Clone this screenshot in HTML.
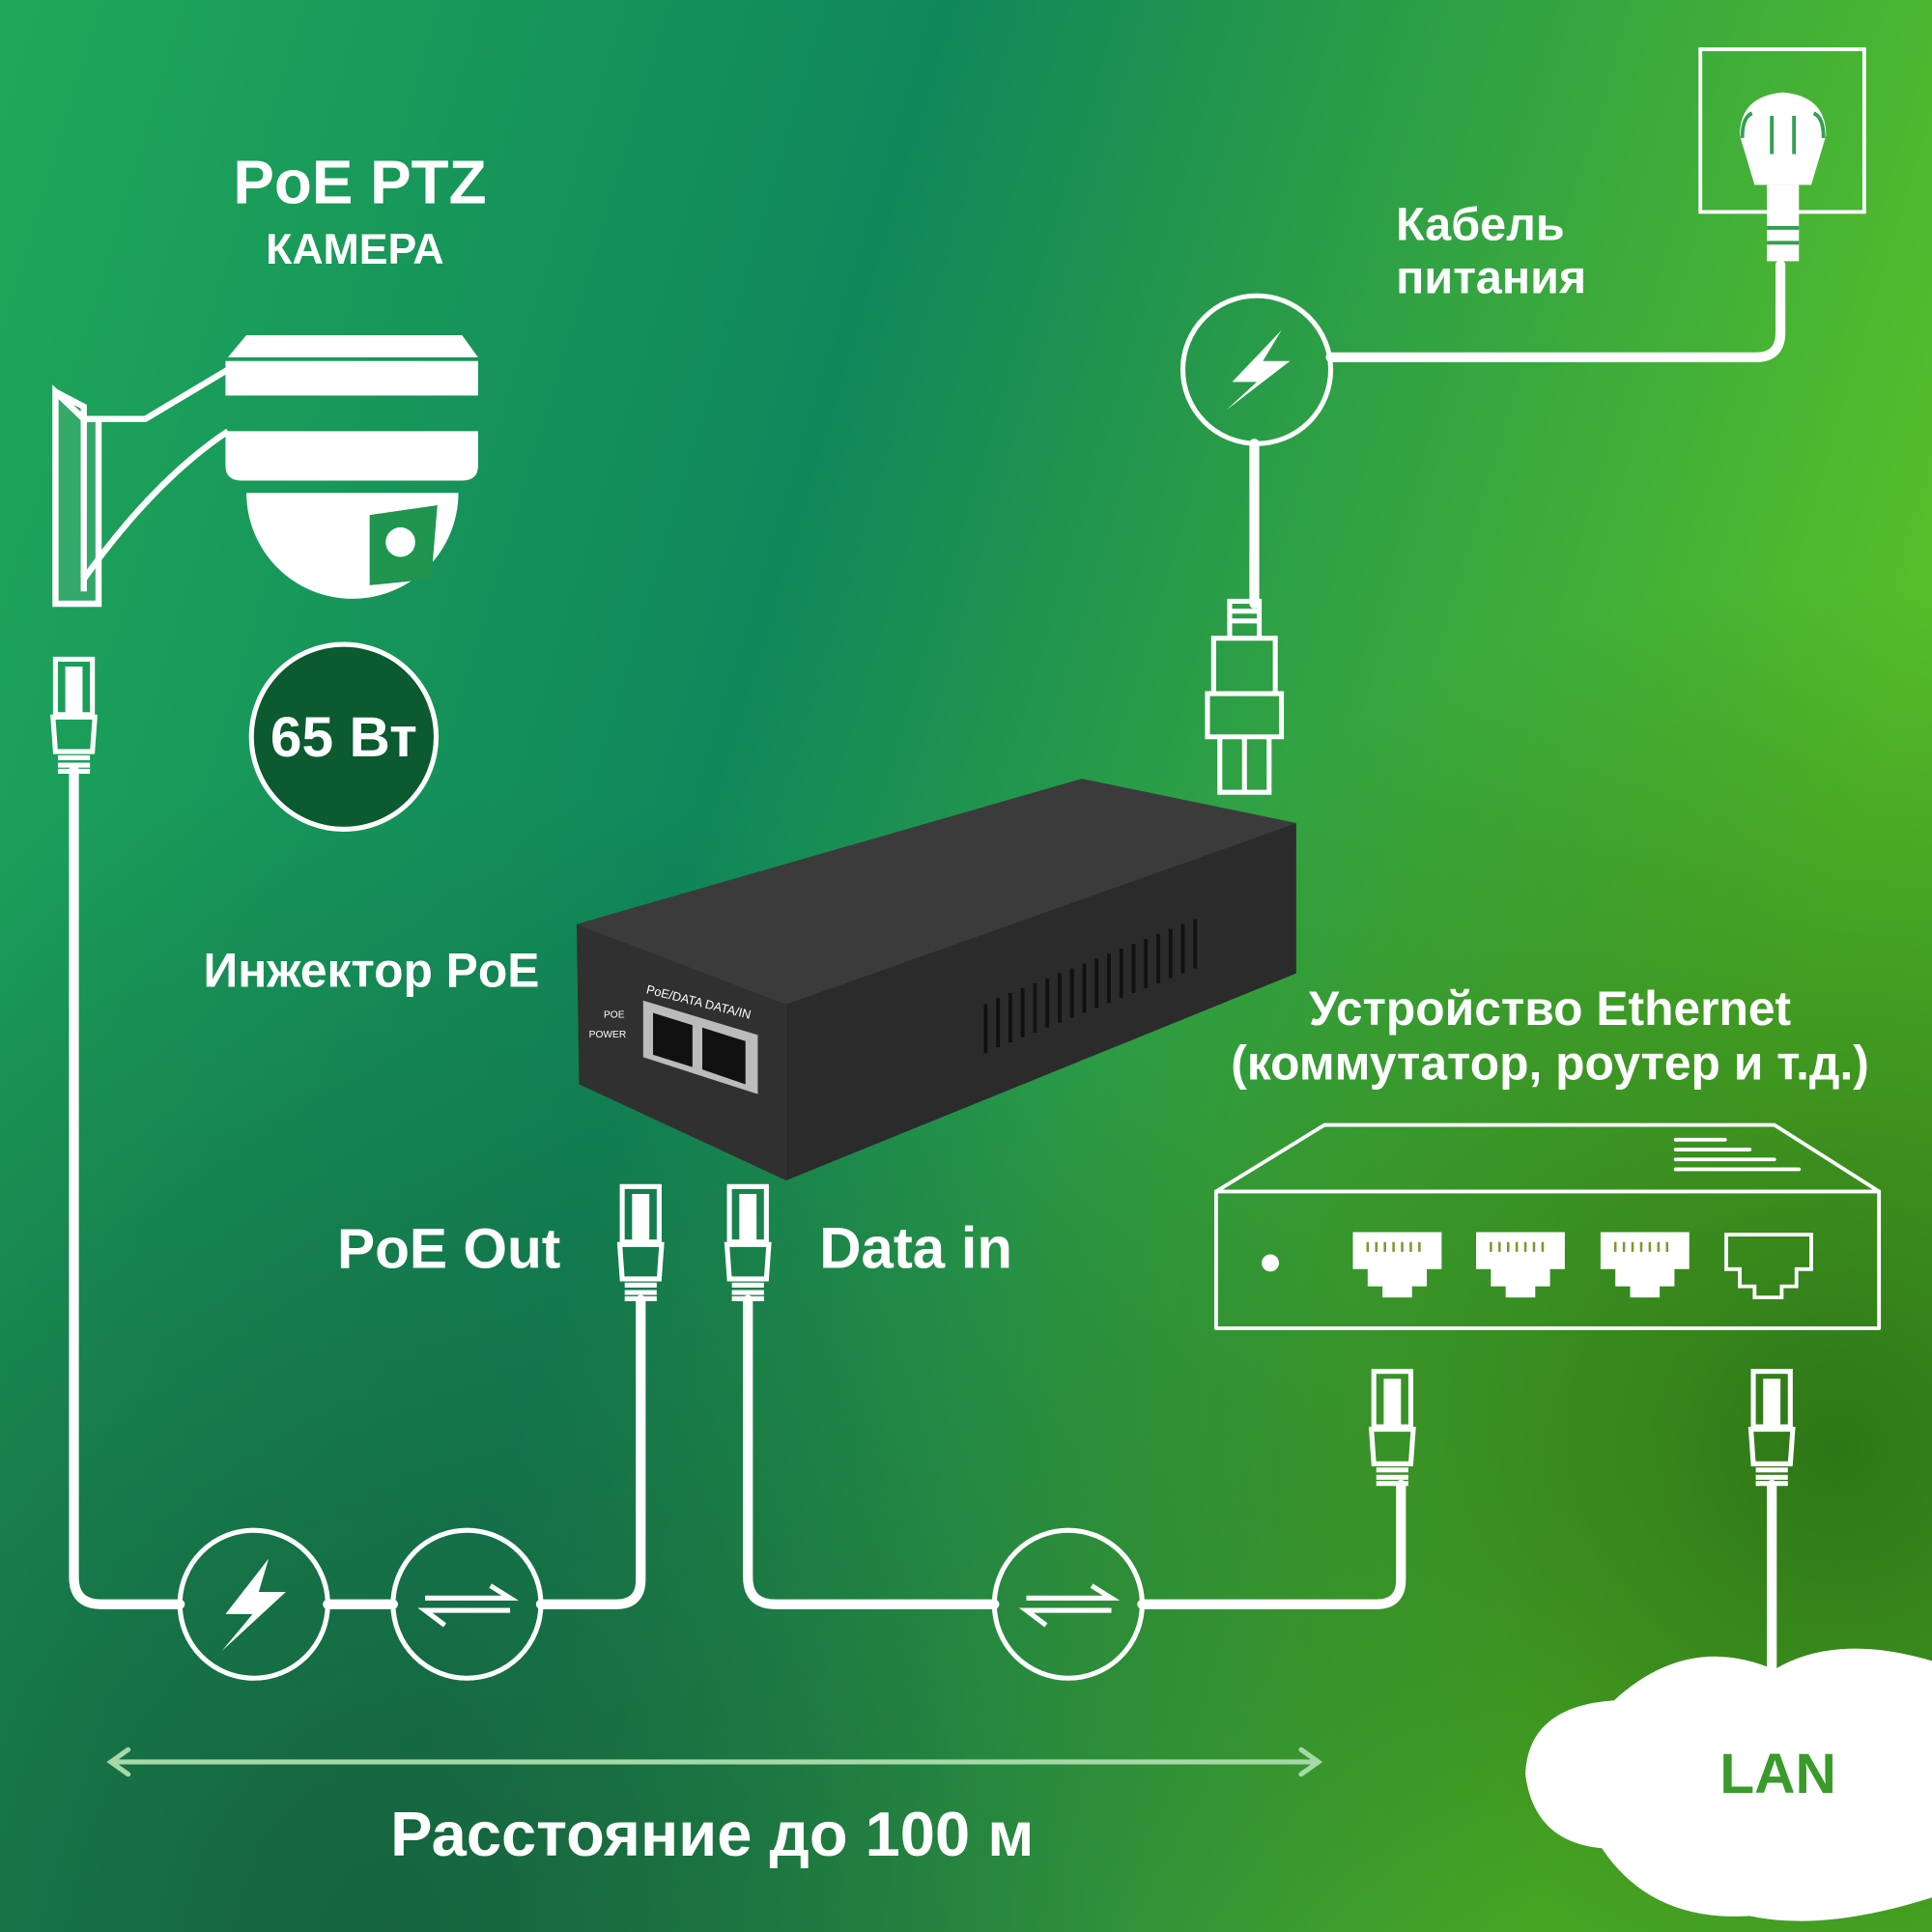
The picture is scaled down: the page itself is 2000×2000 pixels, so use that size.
<!DOCTYPE html>
<html><head><meta charset="utf-8"><style>
html,body{margin:0;padding:0;width:2000px;height:2000px;overflow:hidden}
svg{display:block}
text{font-family:"Liberation Sans","DejaVu Sans",sans-serif;font-weight:bold;fill:#fff}
</style></head><body>
<svg width="2000" height="2000" viewBox="0 0 1568 1568" xmlns="http://www.w3.org/2000/svg">
<defs>
<linearGradient id="bg" x1="0" y1="0" x2="1" y2="0.3">
<stop offset="0" stop-color="#20a85a"/><stop offset="0.45" stop-color="#10875a"/><stop offset="1" stop-color="#55bf2a"/>
</linearGradient>
<radialGradient id="dk1" cx="0.2" cy="1" r="0.6"><stop offset="0" stop-color="#175f3a" stop-opacity="0.9"/><stop offset="1" stop-color="#175f3a" stop-opacity="0"/></radialGradient>
<radialGradient id="dk2" cx="0.95" cy="0.75" r="0.45"><stop offset="0" stop-color="#2a6e15" stop-opacity="0.9"/><stop offset="1" stop-color="#2a6e15" stop-opacity="0"/></radialGradient>
</defs>
<rect width="1568" height="1568" fill="url(#bg)"/>
<rect width="1568" height="1568" fill="url(#dk1)"/>
<rect width="1568" height="1568" fill="url(#dk2)"/>

<g fill="none" stroke="#fff" stroke-width="8" stroke-linecap="round" stroke-linejoin="round">
<path d="M60,625 V1280 Q60,1302 82,1302 H146"/>
<path d="M266,1302 H319"/>
<path d="M439,1302 H500 Q520,1302 520,1282 V1055"/>
<circle cx="206" cy="1302" r="60" stroke-width="4"/>
<circle cx="379" cy="1302" r="60" stroke-width="4"/>
<path d="M607,1055 V1280 Q607,1302 629,1302 H807"/>
<path d="M927,1302 H1117 Q1137,1302 1137,1282 V1205"/>
<circle cx="867" cy="1302" r="60" stroke-width="4"/>
<path d="M1438,1205 V1360"/>
<circle cx="1020" cy="300" r="60" stroke-width="4"/>
<path d="M1080,290 H1425 Q1445,290 1445,270 V215"/>
<path d="M1018,360 V490"/>
<rect x="987" y="967" width="538" height="111" stroke-width="3"/>
<path d="M987,967 L1075,913 H1440 L1525,967" stroke-width="3"/>
<path d="M1360,925 H1400 M1360,933 H1420 M1360,941 H1440 M1360,949 H1460" stroke-width="3"/>
</g>
<circle cx="1031" cy="1025" r="7" fill="#fff"/>
<g fill="#fff" stroke="#fff">
<path d="M1098,1000 h72 v30 h-12 v14 h-12 v9 h-24 v-9 h-12 v-14 h-12 z" stroke="none"/>
<path d="M1198,1000 h72 v30 h-12 v14 h-12 v9 h-24 v-9 h-12 v-14 h-12 z" stroke="none"/>
<path d="M1299,1000 h72 v30 h-12 v14 h-12 v9 h-24 v-9 h-12 v-14 h-12 z" stroke="none"/>
<path d="M1401,1002 h69 v28 h-12 v14 h-12 v9 h-22 v-9 h-12 v-14 h-11 z" fill="none" stroke-width="3"/>
</g>
<g stroke="#7a9a30" stroke-width="2"><path d="M1110,1008v8M1117,1008v8M1124,1008v8M1131,1008v8M1138,1008v8M1145,1008v8M1152,1008v8M1210,1008v8M1217,1008v8M1224,1008v8M1231,1008v8M1238,1008v8M1245,1008v8M1252,1008v8M1311,1008v8M1318,1008v8M1325,1008v8M1332,1008v8M1339,1008v8M1346,1008v8M1353,1008v8"/></g>

<g fill="#fff">
<path d="M218,1265 L183,1310 H205 L180,1340 L232,1292 H210 Z"/>
<path d="M1040,268 L1000,310 H1020 L995,333 L1047,293 H1025 Z"/>
</g>
<g fill="none" stroke="#fff" stroke-width="4">
<path d="M345,1297 H414 L398,1287 M414,1307 H345 L361,1319"/>
<path d="M833,1297 H902 L886,1287 M902,1307 H833 L849,1319"/>
</g>

<g fill="none" stroke="#fff" stroke-width="4">
<g transform="translate(60,535)"><rect x="-15" y="0" width="30" height="45"/><rect x="-5" y="8" width="10" height="35" fill="#fff"/><path d="M-17,47 H17 L15,75 H-15 Z M-13,80 H13 M-13,86 H13 M-13,91 H13"/></g>
<g transform="translate(520,963)"><rect x="-15" y="0" width="30" height="45"/><rect x="-5" y="8" width="10" height="35" fill="#fff"/><path d="M-17,47 H17 L15,75 H-15 Z M-13,80 H13 M-13,86 H13 M-13,91 H13"/></g>
<g transform="translate(607,963)"><rect x="-15" y="0" width="30" height="45"/><rect x="-5" y="8" width="10" height="35" fill="#fff"/><path d="M-17,47 H17 L15,75 H-15 Z M-13,80 H13 M-13,86 H13 M-13,91 H13"/></g>
<g transform="translate(1130,1113)"><rect x="-15" y="0" width="30" height="45"/><rect x="-5" y="8" width="10" height="35" fill="#fff"/><path d="M-17,47 H17 L15,75 H-15 Z M-13,80 H13 M-13,86 H13 M-13,91 H13"/></g>
<g transform="translate(1438,1113)"><rect x="-15" y="0" width="30" height="45"/><rect x="-5" y="8" width="10" height="35" fill="#fff"/><path d="M-17,47 H17 L15,75 H-15 Z M-13,80 H13 M-13,86 H13 M-13,91 H13"/></g>
<g transform="translate(1010,488)"><path d="M-12,0 H12 V30 H-12 Z M-12,8 H12 M-12,16 H12 M-25,30 H25 V75 H-25 Z M-30,75 H30 V110 H-30 Z M-20,110 V155 H20 V110 M0,110 V155"/></g>
<rect x="1380" y="40" width="133" height="132" stroke-width="3"/>
</g>
<!-- plug -->
<path d="M1412,110 Q1412,78 1447,75 Q1482,78 1482,110 L1470,150 H1424 Z" fill="#fff"/>
<path d="M1422,92 Q1414,95 1414,112 M1472,92 Q1480,95 1480,112" stroke="#30a050" stroke-width="3" fill="none"/>
<path d="M1438,94 V125 M1456,94 V125" stroke="#30a050" stroke-width="3"/>
<rect x="1434" y="150" width="26" height="62" fill="#fff"/>
<path d="M1434,185 H1460 M1434,197 H1460" stroke="#30a050" stroke-width="3"/>

<!-- camera -->
<g fill="none" stroke="#fff" stroke-width="5">
<path d="M45,318 V490 H80 V340 H68 Z" fill="#fff" fill-opacity="0.1"/>
<path d="M45,318 L68,330 V480"/>
<path d="M68,340 H118 L185,300 M68,470 Q125,390 185,350"/>
</g>
<path d="M185,290 L200,272 H375 L388,290 Z" fill="#fff"/>
<rect x="183" y="293" width="205" height="28" fill="#fff"/>
<path d="M183,350 H388 V378 Q388,390 375,390 H196 Q183,390 183,378 Z" fill="#fff"/>
<path d="M200,400 H372 A86,86 0 0 1 200,400 Z" fill="#fff"/>
<path d="M300,418 L355,410 L350,470 L300,475 Z" fill="#1f9550"/>
<circle cx="325" cy="440" r="12" fill="#fff"/>

<circle cx="279" cy="598" r="75" fill="#0c5a30" stroke="#fff" stroke-width="4"/>
<text x="279" y="614" font-size="46" text-anchor="middle">65 Вт</text>

<path d="M468,750 L878,632 L1052,668 L638,815 Z" fill="#3b3b3b"/>
<path d="M638,815 L1052,668 L1052,790 L638,958 Z" fill="#2b2b2b"/>
<path d="M468,750 L638,815 L638,958 L470,880 Z" fill="#303030"/>
<g stroke="#111" stroke-width="3"><path d="M800,815 v40 M810,810v40 M820,806v40 M830,802v40 M840,798v40 M850,794v40 M860,790v40 M870,786v40 M880,782v40 M890,778v40 M900,774v40 M910,770v40 M920,766v40 M930,762v40 M940,758v40 M950,754v40 M960,750v40 M970,746v40"/></g>
<path d="M522,812 L615,840 L615,888 L522,858 Z" fill="#bbb"/>
<path d="M530,822 L562,832 L562,866 L530,856 Z M570,834 L605,845 L605,880 L570,868 Z" fill="#111"/>
<text x="524" y="806" font-size="10" transform="rotate(14 524 806)" style="font-weight:normal">PoE/DATA DATA/IN</text>
<text x="490" y="826" font-size="8" style="font-weight:normal">POE</text>
<text x="478" y="842" font-size="8" style="font-weight:normal">POWER</text>

<path d="M1568,1348 Q1490,1325 1440,1355 Q1370,1325 1310,1380 Q1240,1385 1238,1440 Q1245,1495 1300,1500 Q1340,1560 1420,1555 Q1480,1568 1568,1540 Z" fill="#fff"/>
<text x="1443" y="1455" font-size="46" text-anchor="middle" style="fill:#3a9a2a">LAN</text>

<g stroke="#a6d8a8" stroke-width="4" fill="none" stroke-linecap="round"><path d="M90,1430 H1070 M104,1420 L90,1430 L104,1440 M1056,1420 L1070,1430 L1056,1440"/></g>

<text x="292" y="165" font-size="50" text-anchor="middle">PoE PTZ</text>
<text x="288" y="214" font-size="35" text-anchor="middle">КАМЕРА</text>
<text x="1133" y="195" font-size="38">Кабель</text>
<text x="1133" y="238" font-size="38">питания</text>
<text x="165" y="801" font-size="39">Инжектор PoE</text>
<text x="1258" y="832" font-size="39" text-anchor="middle">Устройство Ethernet</text>
<text x="1258" y="876" font-size="39" text-anchor="middle">(коммутатор, роутер и т.д.)</text>
<text x="455" y="1029" font-size="46" text-anchor="end">PoE Out</text>
<text x="665" y="1029" font-size="47">Data in</text>
<text x="578" y="1506" font-size="51" text-anchor="middle">Расстояние до 100 м</text>
</svg>
</body></html>
